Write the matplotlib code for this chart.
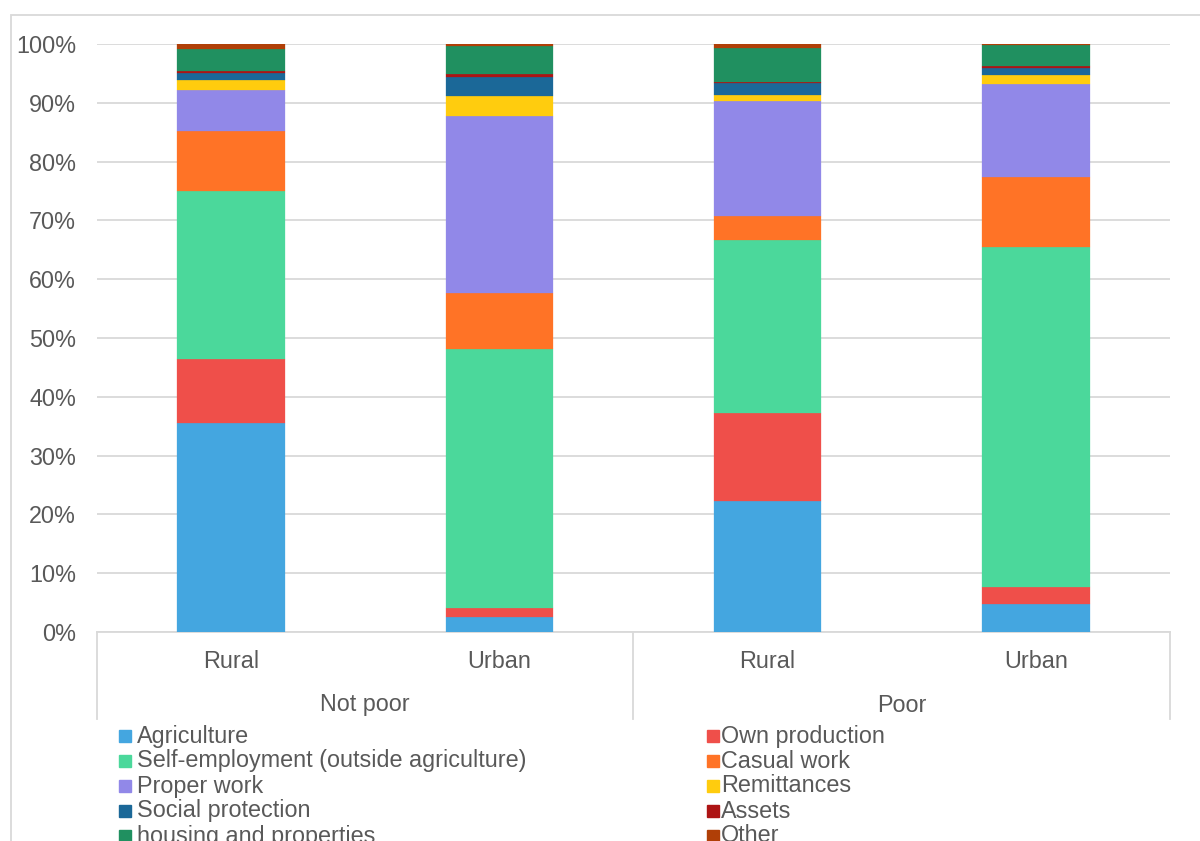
import matplotlib
matplotlib.use("Agg")
import matplotlib.pyplot as plt
from matplotlib.patches import Rectangle
from matplotlib.lines import Line2D
import numpy as np

plt.rcParams['font.family'] = ['Liberation Sans', 'DejaVu Sans']

groups = ["Not poor", "Poor"]
areas = ["Rural", "Urban", "Rural", "Urban"]
series = ["Agriculture", "Own production", "Self-employment (outside agriculture)",
          "Casual work", "Proper work", "Remittances", "Social protection",
          "Assets", "housing and properties", "Other"]

agriculture = [35.5, 2.6, 22.3, 4.8]
own_production = [10.9, 1.5, 14.9, 2.9]
self_employment = [28.6, 44.0, 29.5, 57.8]
casual_work = [10.2, 9.6, 4.0, 11.9]
proper_work = [6.9, 30.1, 19.6, 15.8]
remittances = [1.8, 3.4, 1.0, 1.5]
social_protection = [1.2, 3.2, 2.1, 1.3]
assets = [0.3, 0.5, 0.2, 0.2]
housing = [3.7, 4.8, 5.7, 3.6]
other = [0.9, 0.3, 0.7, 0.2]

values = [agriculture, own_production, self_employment, casual_work, proper_work,
          remittances, social_protection, assets, housing, other]
colors = ["#44A6E0", "#EF4F4A", "#4BD89B", "#FF7326", "#9188E8",
          "#FFCC0E", "#1B6898", "#AD1414", "#209060", "#B03F07"]

W, H = 1200, 841
FS = 16.8
fig = plt.figure(figsize=(12, 8.41), dpi=100)

def fx(px):
    return px / W

def fy(py):
    return 1 - py / H

ax = fig.add_axes([fx(97), fy(632), fx(1170) - fx(97), fy(44) - fy(632)])
x = np.arange(len(areas))
bottom = np.zeros(len(areas))
for vals, c in zip(values, colors):
    v = np.array(vals) / 100.0
    ax.bar(x, v, width=0.40, bottom=bottom, color=c, edgecolor=c, linewidth=0.2, zorder=3)
    bottom += v

ax.set_xlim(-0.5, 3.5)
ax.set_ylim(0, 1)
ticks = np.arange(0, 1.01, 0.1)
ax.set_yticks(ticks)
ax.set_yticklabels([f"{int(round(t*100))}%" for t in ticks])
ax.yaxis.grid(True, color='#D9D9D9', linewidth=1.3, zorder=0)
ax.set_axisbelow(True)
ax.tick_params(axis='y', length=0, pad=15, labelsize=FS, labelcolor='#595959')
ax.set_xticks([])
for s in ['top', 'right', 'left']:
    ax.spines[s].set_visible(False)
ax.spines['bottom'].set_color('#D9D9D9')
ax.spines['bottom'].set_linewidth(1.3)

# category axis separators
for px in [97, 633, 1170]:
    fig.add_artist(Line2D([fx(px), fx(px)], [fy(632), fy(719)], color='#D9D9D9', linewidth=1.3))

# area labels under bars
for i, lab in enumerate(areas):
    xd = ax.transData.transform((x[i], 0))[0] / fig.dpi / fig.get_figwidth()
    fig.text(xd, fy(661), lab, ha='center', va='center', fontsize=FS, color='#595959')
# group labels
for gi, g in enumerate(groups):
    xm = (x[2 * gi] + x[2 * gi + 1]) / 2
    xd = ax.transData.transform((xm, 0))[0] / fig.dpi / fig.get_figwidth()
    fig.text(xd, fy(705), g, ha='center', va='center', fontsize=FS, color='#595959')

# outer chart frame
fig.add_artist(Rectangle((fx(11), fy(900)), fx(1250) - fx(11), fy(15) - fy(900),
                         fill=False, edgecolor='#D9D9D9', linewidth=1.3))

# legend (two columns)
row_y = [736, 761, 786, 811, 836]
for i, (name, c) in enumerate(zip(series, colors)):
    col = i % 2
    row = i // 2
    mx = 119 if col == 0 else 707
    tx = 137 if col == 0 else 721
    yc = row_y[row]
    fig.add_artist(Rectangle((fx(mx), fy(yc + 6)), fx(12), 12 / H, color=c))
    fig.text(fx(tx), fy(yc), name, ha='left', va='center', fontsize=FS, color='#595959')

fig.savefig("out.png", dpi=100)
